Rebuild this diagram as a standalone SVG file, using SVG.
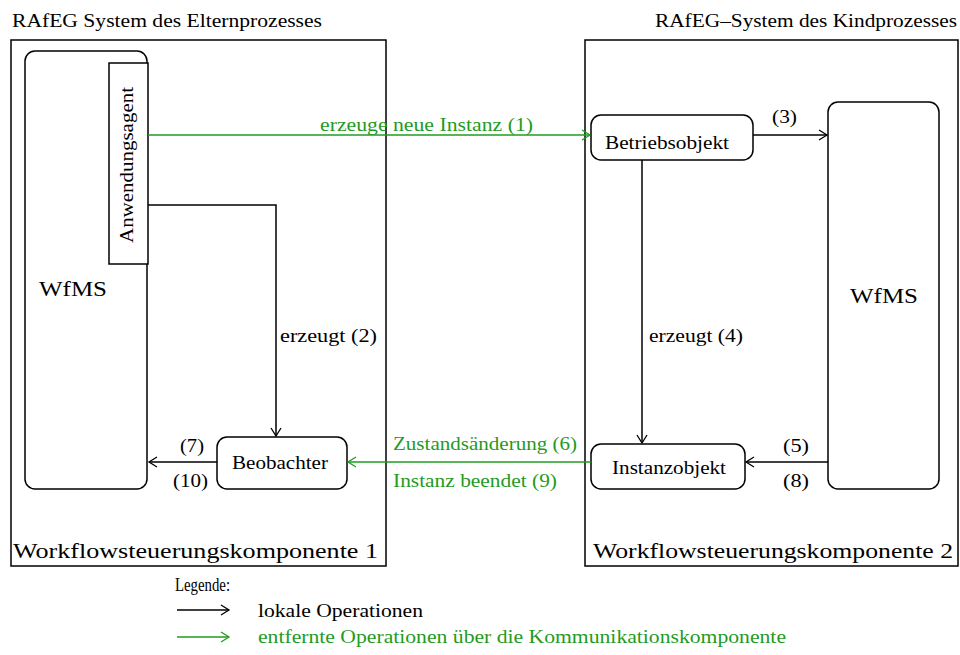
<svg xmlns="http://www.w3.org/2000/svg" width="960" height="655" viewBox="0 0 960 655">
<defs>
<style>
text{font-family:"Liberation Serif","Times New Roman",serif;font-size:19px;fill:#000}
.g{fill:#1f9b1f}
.box{fill:none;stroke:#000;stroke-width:1.5}
.node{fill:#fff;stroke:#000;stroke-width:1.5}
.lb{fill:none;stroke:#000;stroke-width:1.5}
.lg{fill:none;stroke:#1f9b1f;stroke-width:1.5}
.big{font-size:21px}
</style>
<marker id="ab" markerUnits="userSpaceOnUse" markerWidth="12" markerHeight="12" refX="10" refY="6" orient="auto">
<path d="M2,1 L10,6 L2,11" fill="none" stroke="#000" stroke-width="1.3"/>
</marker>
<marker id="ag" markerUnits="userSpaceOnUse" markerWidth="12" markerHeight="12" refX="10" refY="6" orient="auto">
<path d="M2,1 L10,6 L2,11" fill="none" stroke="#1f9b1f" stroke-width="1.3"/>
</marker>
</defs>
<rect width="960" height="655" fill="#fff"/>

<g id="system-eltern">
<rect class="box" x="11" y="40" width="375" height="526"/>
<text x="12" y="27" textLength="310" lengthAdjust="spacingAndGlyphs">RAfEG System des Elternprozesses</text>
<text class="big" x="13" y="558" textLength="365" lengthAdjust="spacingAndGlyphs">Workflowsteuerungskomponente 1</text>
</g>
<g id="system-kind">
<rect class="box" x="585" y="40" width="373" height="526"/>
<text x="655" y="27" textLength="302" lengthAdjust="spacingAndGlyphs">RAfEG–System des Kindprozesses</text>
<text class="big" x="593" y="558" textLength="360" lengthAdjust="spacingAndGlyphs">Workflowsteuerungskomponente 2</text>
</g>

<g id="wfms-links">
<rect class="node" x="25" y="51" width="122" height="438" rx="10"/>
<text class="big" x="39" y="296" textLength="68" lengthAdjust="spacingAndGlyphs">WfMS</text>
</g>
<g id="anwendungsagent">
<rect class="node" x="109" y="63" width="39" height="201"/>
<text transform="translate(133,243) rotate(-90)" x="0" y="0" font-size="18" textLength="156" lengthAdjust="spacingAndGlyphs">Anwendungsagent</text>
</g>
<g id="beobachter">
<rect class="node" x="217" y="437" width="130" height="52" rx="10"/>
<text x="232" y="469" textLength="96" lengthAdjust="spacingAndGlyphs">Beobachter</text>
</g>
<g id="betriebsobjekt">
<rect class="node" x="591" y="115" width="162" height="45" rx="10"/>
<text x="605" y="149" textLength="124" lengthAdjust="spacingAndGlyphs">Betriebsobjekt</text>
</g>
<g id="instanzobjekt">
<rect class="node" x="591" y="444" width="154" height="45" rx="10"/>
<text x="612" y="474" textLength="114" lengthAdjust="spacingAndGlyphs">Instanzobjekt</text>
</g>
<g id="wfms-rechts">
<rect class="node" x="828" y="102" width="111" height="387" rx="10"/>
<text class="big" x="850" y="303" textLength="68" lengthAdjust="spacingAndGlyphs">WfMS</text>
</g>

<g id="connectors">
<path class="lg" d="M148,135 H590" marker-end="url(#ag)"/>
<path class="lb" d="M148,205 H276 V436" marker-end="url(#ab)"/>
<path class="lb" d="M753,135 H827" marker-end="url(#ab)"/>
<path class="lb" d="M642,160 V443" marker-end="url(#ab)"/>
<path class="lb" d="M828,462 H746" marker-end="url(#ab)"/>
<path class="lg" d="M591,462 H348" marker-end="url(#ag)"/>
<path class="lb" d="M217,462 H149" marker-end="url(#ab)"/>
<text class="g" x="320" y="131" textLength="213" lengthAdjust="spacingAndGlyphs">erzeuge neue Instanz (1)</text>
<text x="280" y="342" textLength="97" lengthAdjust="spacingAndGlyphs">erzeugt (2)</text>
<text x="772" y="123" textLength="25" lengthAdjust="spacingAndGlyphs">(3)</text>
<text x="649" y="342" textLength="94" lengthAdjust="spacingAndGlyphs">erzeugt (4)</text>
<text x="783" y="452" textLength="26" lengthAdjust="spacingAndGlyphs">(5)</text>
<text x="783" y="487" textLength="26" lengthAdjust="spacingAndGlyphs">(8)</text>
<text class="g" x="393" y="450" textLength="184" lengthAdjust="spacingAndGlyphs">Zustandsänderung (6)</text>
<text class="g" x="393" y="487" textLength="164" lengthAdjust="spacingAndGlyphs">Instanz beendet (9)</text>
<text x="180" y="452" textLength="24" lengthAdjust="spacingAndGlyphs">(7)</text>
<text x="173" y="487" textLength="35" lengthAdjust="spacingAndGlyphs">(10)</text>
</g>

<g id="legende">
<text x="175" y="591" font-size="13" textLength="55" lengthAdjust="spacingAndGlyphs">Legende:</text>
<path class="lb" d="M177,610 H229" marker-end="url(#ab)"/>
<text x="258" y="617" textLength="165" lengthAdjust="spacingAndGlyphs">lokale Operationen</text>
<path class="lg" d="M177,637 H229" marker-end="url(#ag)"/>
<text class="g" x="258" y="643" textLength="528" lengthAdjust="spacingAndGlyphs">entfernte Operationen über die Kommunikationskomponente</text>
</g>
</svg>
